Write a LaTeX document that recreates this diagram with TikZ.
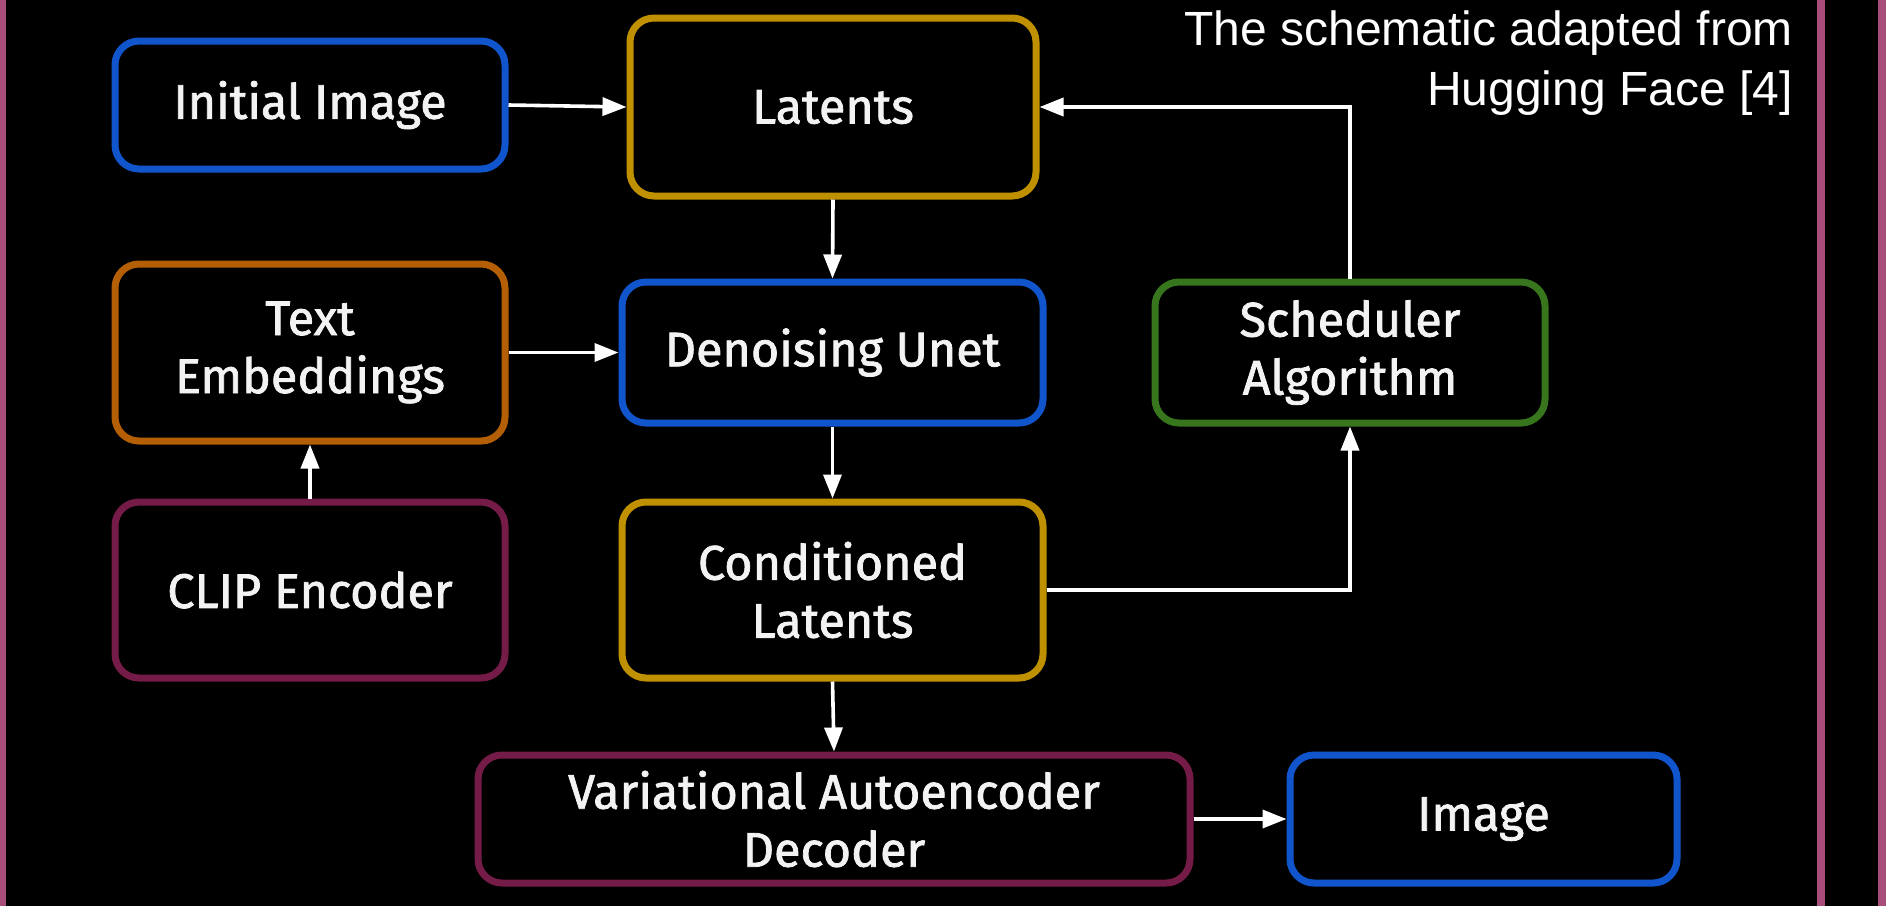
\documentclass[tikz,border=0pt]{standalone}
\usepackage{fontspec}
\setmainfont{Liberation Sans}
\newfontfamily\boxfont{Fira Sans}[FakeBold=1.6]
\usetikzlibrary{arrows.meta}
\definecolor{cblue}{HTML}{1155CC}
\definecolor{cgold}{HTML}{BF9000}
\definecolor{corange}{HTML}{B45F06}
\definecolor{cgreen}{HTML}{38761D}
\definecolor{cmaroon}{HTML}{741B47}
\definecolor{cpink}{HTML}{A64D79}
\definecolor{ctext}{HTML}{F3F3F3}
\tikzset{
  blk/.style={draw, line width=7pt, rounded corners=24pt, fill=black, text=ctext,
    align=center, inner sep=0pt, font=\boxfont\fontsize{48.5}{58}\selectfont},
  flow/.style={draw=white, line width=3.6pt, -{Triangle[length=24pt,width=18pt]}},
}
\begin{document}
\begin{tikzpicture}[x=1pt,y=-1pt]
\fill[black] (0,0) rectangle (1886,906);
\useasboundingbox (0,0) rectangle (1886,906);
\fill[cpink] (0,0) rectangle (6,906);
\fill[cpink] (1817,0) rectangle (1825,906);
\fill[cpink] (1878,0) rectangle (1886,906);

\node[blk, draw=cblue, minimum width=390pt, minimum height=128pt] (ii) at (310,105) {Initial Image};
\node[blk, draw=cgold, minimum width=406pt, minimum height=178pt] (lat) at (833,107) {Latents};
\node[blk, draw=corange, minimum width=390pt, minimum height=177pt] (te) at (310,352.5) {Text\\Embeddings};
\node[blk, draw=cblue, minimum width=421pt, minimum height=141pt] (du) at (832.5,352.5) {Denoising Unet};
\node[blk, draw=cgreen, minimum width=390pt, minimum height=141pt] (sch) at (1350,352.5) {Scheduler\\Algorithm};
\node[blk, draw=cmaroon, minimum width=390pt, minimum height=176pt] (clip) at (310,590) {CLIP Encoder};
\node[blk, draw=cgold, minimum width=421pt, minimum height=176pt] (cl) at (832.5,590) {Conditioned\\Latents};
\node[blk, draw=cmaroon, minimum width=712pt, minimum height=128pt] (vae) at (834,819) {Variational Autoencoder\\Decoder};
\node[blk, draw=cblue, minimum width=387pt, minimum height=128pt] (img) at (1483.5,819) {Image};

\node[anchor=north east, inner sep=0pt, align=right, text=white,
  font=\fontsize{48}{60}\selectfont] (cap) at (1793,11) {The schematic adapted from\\Hugging Face [4]};

\draw[flow] (ii.east) -- (lat.west);
\draw[flow] (lat.south) -- (du.north);
\draw[flow] (te.east) -- (du.west);
\draw[flow] (clip.north) -- (te.south);
\draw[flow] (du.south) -- (cl.north);
\draw[flow] (cl.east) -| (sch.south);
\draw[flow] (sch.north) |- (lat.east);
\draw[flow] (cl.south) -- (vae.north);
\draw[flow] (vae.east) -- (img.west);
\end{tikzpicture}
\end{document}
